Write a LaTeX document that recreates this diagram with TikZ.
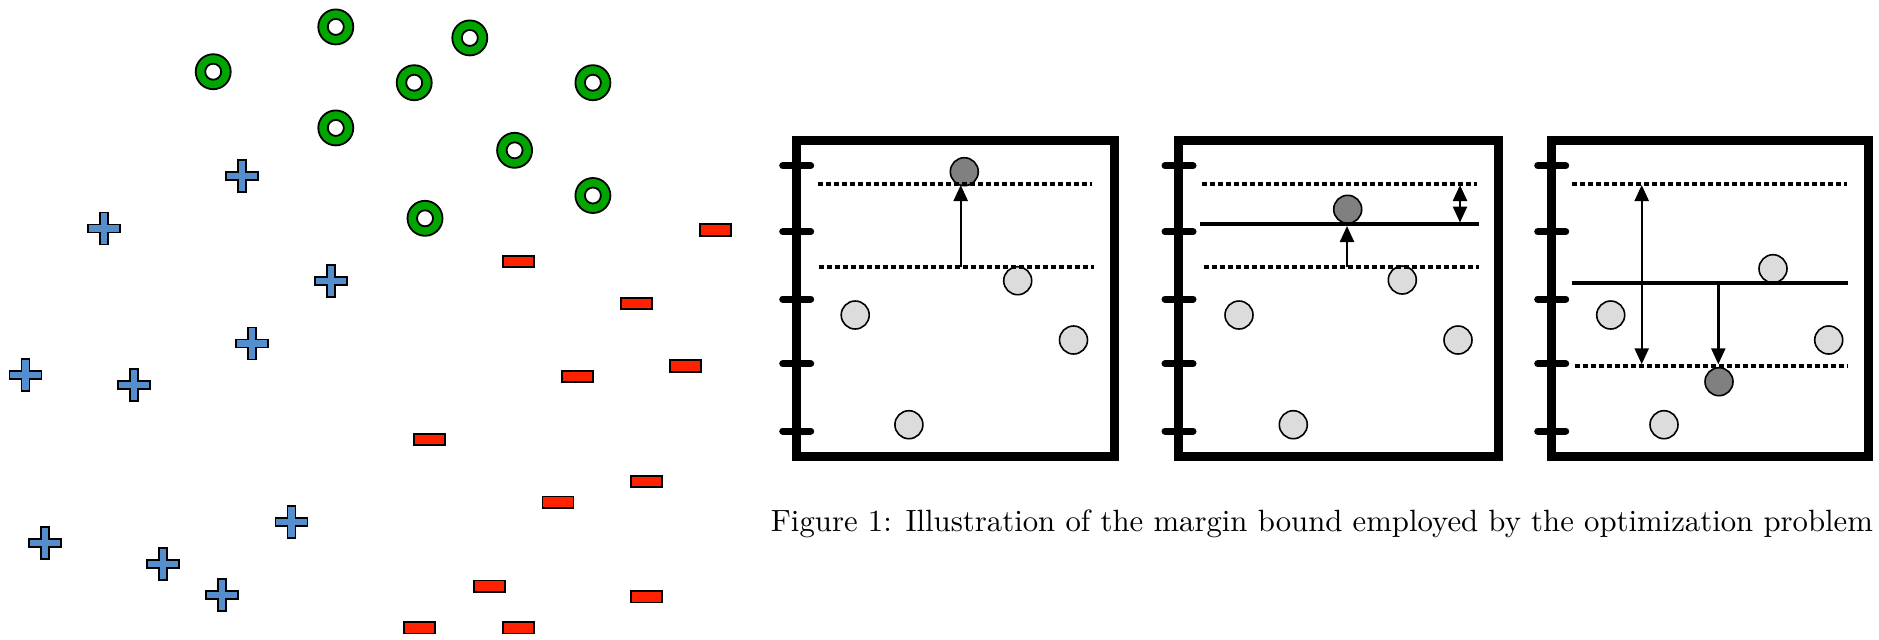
\documentclass[tikz,border=0pt]{standalone}
\usepackage{graphicx}
\usetikzlibrary{arrows.meta}
\definecolor{ringgreen}{RGB}{0,165,0}
\definecolor{plusblue}{RGB}{85,142,205}
\definecolor{minusred}{RGB}{255,34,0}
\definecolor{lightgrey}{RGB}{220,220,220}
\definecolor{darkgrey}{RGB}{128,128,128}
\tikzset{
  ring/.style={circle, draw=black, fill=ringgreen, line width=0.9pt, minimum size=17.5pt, inner sep=0pt,
    path picture={\draw[line width=0.9pt, fill=white] (path picture bounding box.center) circle (4pt);}},
  minusbar/.style={rectangle, draw=black, fill=minusred, line width=0.9pt, minimum width=15.5pt, minimum height=5.8pt, inner sep=0pt},
  plusmark/.pic={\draw[draw=black, fill=plusblue, line width=0.9pt]
    (-4,-16) -- (4,-16) -- (4,-4) -- (16,-4) -- (16,4) -- (4,4) -- (4,16) -- (-4,16) -- (-4,4) -- (-16,4) -- (-16,-4) -- (-4,-4) -- cycle;},
  lightdot/.style={circle, draw=black, fill=lightgrey, line width=0.8pt, minimum size=14pt, inner sep=0pt},
  darkdot/.style={circle, draw=black, fill=darkgrey, line width=0.8pt, minimum size=14pt, inner sep=0pt},
  panelframe/.style={draw=black, line width=4.5pt},
  axistick/.style={line width=3.5pt, line cap=round},
  marginline/.style={line width=2.2pt, dash pattern=on 2.6pt off 1.4pt},
  sepline/.style={line width=2.2pt},
  gap/.style={line width=1.2pt, -{Triangle[length=8pt,width=7pt]}},
  gapboth/.style={line width=1.2pt, {Triangle[length=8pt,width=7pt]}-{Triangle[length=8pt,width=7pt]}},
}
\begin{document}
\begin{tikzpicture}[x=0.5pt, y=-0.5pt]
\useasboundingbox (0,0) rectangle (1879,639);
% green rings
\node[ring] (g1) at (335.8,26.9) {};
\node[ring] (g2) at (469.8,37.9) {};
\node[ring] (g3) at (213.2,71.7) {};
\node[ring] (g4) at (414.2,82.7) {};
\node[ring] (g5) at (592.9,82.7) {};
\node[ring] (g6) at (335.8,127.9) {};
\node[ring] (g7) at (514.6,150.3) {};
\node[ring] (g8) at (592.9,195.5) {};
\node[ring] (g9) at (425.0,218.3) {};
% blue plus marks
\pic (b1) at (242.0,176.0) {plusmark};
\pic (b2) at (104.2,228.5) {plusmark};
\pic (b3) at (330.7,280.7) {plusmark};
\pic (b4) at (251.9,343.4) {plusmark};
\pic (b5) at (25.5,374.7) {plusmark};
\pic (b6) at (134.0,385.3) {plusmark};
\pic (b7) at (291.5,521.8) {plusmark};
\pic (b8) at (45.3,542.6) {plusmark};
\pic (b9) at (163.2,563.7) {plusmark};
\pic (b10) at (222.2,595.1) {plusmark};
% red minus marks
\node[minusbar] (r1) at (715.6,230.1) {};
\node[minusbar] (r2) at (518.4,261.5) {};
\node[minusbar] (r3) at (636.8,303.5) {};
\node[minusbar] (r4) at (685.8,365.8) {};
\node[minusbar] (r5) at (577.8,376.4) {};
\node[minusbar] (r6) at (429.7,439.5) {};
\node[minusbar] (r7) at (646.7,481.5) {};
\node[minusbar] (r8) at (558.0,502.2) {};
\node[minusbar] (r9) at (489.2,586.2) {};
\node[minusbar] (r10) at (646.7,596.7) {};
\node[minusbar] (r11) at (419.8,627.7) {};
\node[minusbar] (r12) at (518.4,627.7) {};
% ---------- panel 1 ----------
\begin{scope}[shift={(796.2,0)}]
  \draw[panelframe] (0,140.5) rectangle (318,456.2);
  \foreach \ty in {165.7,231.7,299,363.7,431} \draw[axistick] (-13.5,\ty) -- (14.5,\ty);
  \node[lightdot] (p1l1) at (221.5,280.7) {};
  \node[lightdot] (p1l2) at (59,315) {};
  \node[lightdot] (p1l3) at (277.3,340) {};
  \node[lightdot] (p1l4) at (112.7,424.7) {};
  \node[darkdot] (p1d) at (168.1,171.7) {};
  \coordinate (p1ua) at (22,183.7); \coordinate (p1ub) at (296,183.7);
  \coordinate (p1la) at (23,266.7); \coordinate (p1lb) at (298,266.7);
  \draw[marginline] (p1ua) -- (p1ub);
  \draw[marginline] (p1la) -- (p1lb);
  \coordinate (p1s) at (164.5,266.7); \coordinate (p1t) at (164.5,185);
  \draw[gap] (p1s) -- (p1t);
\end{scope}
% ---------- panel 2 ----------
\begin{scope}[shift={(1178.5,0)}]
  \draw[panelframe] (0,140.5) rectangle (320,456.2);
  \foreach \ty in {165.7,231.7,299,363.7,431} \draw[axistick] (-13.5,\ty) -- (14.5,\ty);
  \node[lightdot] (p2l1) at (223.8,280) {};
  \node[lightdot] (p2l2) at (60.5,315) {};
  \node[lightdot] (p2l3) at (279.5,340) {};
  \node[lightdot] (p2l4) at (114.8,424.7) {};
  \node[darkdot] (p2d) at (169.2,209.3) {};
  \coordinate (p2ua) at (23.5,183.7); \coordinate (p2ub) at (298,183.7);
  \coordinate (p2la) at (25.5,266.7); \coordinate (p2lb) at (300.5,266.7);
  \coordinate (p2sa) at (21.5,223.7); \coordinate (p2sb) at (300.5,223.7);
  \draw[marginline] (p2ua) -- (p2ub);
  \draw[marginline] (p2la) -- (p2lb);
  \draw[sepline] (p2sa) -- (p2sb);
  \coordinate (p2s) at (168.5,266.7); \coordinate (p2t) at (168.5,226);
  \draw[gap] (p2s) -- (p2t);
  \coordinate (p2da) at (281.5,185); \coordinate (p2db) at (281.5,222.5);
  \draw[gapboth] (p2da) -- (p2db);
\end{scope}
% ---------- panel 3 ----------
\begin{scope}[shift={(1551.2,0)}]
  \draw[panelframe] (0,140.5) rectangle (317.5,456.2);
  \foreach \ty in {165.7,231.7,299,363.7,431} \draw[axistick] (-13.5,\ty) -- (14.5,\ty);
  \node[lightdot] (p3l1) at (221.8,268.7) {};
  \node[lightdot] (p3l2) at (59.5,315) {};
  \node[lightdot] (p3l3) at (277.5,340) {};
  \node[lightdot] (p3l4) at (112.8,424.7) {};
  \node[darkdot] (p3d) at (167.8,381.7) {};
  \coordinate (p3ua) at (21,183.7); \coordinate (p3ub) at (295.5,183.7);
  \coordinate (p3la) at (23.8,365.7); \coordinate (p3lb) at (297,365.7);
  \coordinate (p3sa) at (21,282.7); \coordinate (p3sb) at (297,282.7);
  \draw[marginline] (p3ua) -- (p3ub);
  \draw[marginline] (p3la) -- (p3lb);
  \draw[sepline] (p3sa) -- (p3sb);
  \coordinate (p3da) at (90.5,185); \coordinate (p3db) at (90.5,364.3);
  \draw[gapboth] (p3da) -- (p3db);
  \coordinate (p3s) at (167.1,282.7); \coordinate (p3t) at (167.1,364.3);
  \draw[gap] (p3s) -- (p3t);
\end{scope}
% caption
\node[anchor=base west, inner sep=0pt] (caption) at (770.5,531)
  {\resizebox{551pt}{!}{Figure 1: Illustration of the margin bound employed by the optimization problem}};
\end{tikzpicture}
\end{document}
